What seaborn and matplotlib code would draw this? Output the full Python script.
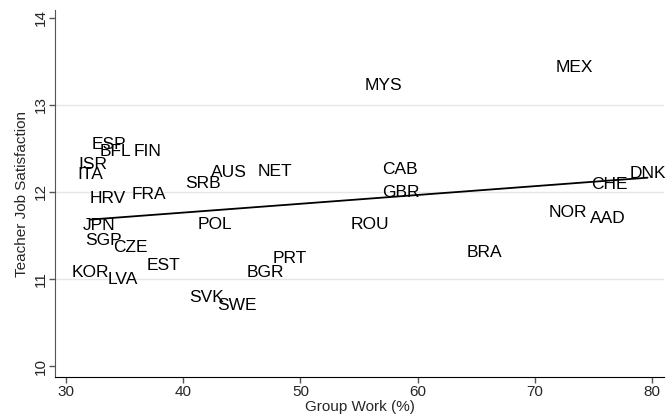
import pandas as pd
import seaborn as sns
import matplotlib.pyplot as plt

# Country codes with group work share (%) and teacher job satisfaction
countries = ['MEX', 'MYS', 'ESP', 'BFL', 'FIN', 'ISR', 'ITA', 'HRV', 'FRA', 'AUS',
             'SRB', 'NET', 'CAB', 'GBR', 'CHE', 'DNK', 'NOR', 'AAD', 'BRA', 'ROU',
             'POL', 'JPN', 'SGP', 'CZE', 'EST', 'PRT', 'BGR', 'KOR', 'LVA', 'SVK', 'SWE']
group_work = [73.4, 57.1, 33.7, 34.2, 37.0, 32.3, 32.1, 33.6, 37.1, 43.9,
              41.7, 47.8, 58.5, 58.6, 76.3, 79.6, 72.8, 76.2, 65.7, 55.9,
              42.7, 32.8, 33.2, 35.5, 38.3, 49.1, 47.0, 32.1, 34.9, 42.0, 44.6]
satisfaction = [13.43, 13.22, 12.54, 12.47, 12.47, 12.31, 12.20, 11.93, 11.97, 12.22,
                12.10, 12.23, 12.26, 11.99, 12.09, 12.21, 11.76, 11.69, 11.30, 11.63,
                11.63, 11.61, 11.44, 11.36, 11.15, 11.23, 11.08, 11.08, 10.99, 10.79, 10.70]
y_ticks = [10, 11, 12, 13, 14]
x_ticks = [30, 40, 50, 60, 70, 80]

df = pd.DataFrame({'Country': countries, 'GroupWork': group_work, 'Satisfaction': satisfaction})

sns.set_style("white")
plt.rcParams['font.family'] = ['Liberation Sans', 'DejaVu Sans']

fig = plt.figure(figsize=(6.66, 4.18), dpi=100)
ax = fig.add_axes([0.083, 0.098, 0.914, 0.878])

# Fitted line only, labels stand in for the markers
sns.regplot(x='GroupWork', y='Satisfaction', data=df, scatter=False, ci=None,
            truncate=True, color='black', line_kws={'linewidth': 1.3}, ax=ax)

for _, row in df.iterrows():
    ax.text(row['GroupWork'], row['Satisfaction'], row['Country'],
            ha='center', va='center', fontsize=12.5, color='black')

ax.set_xlim(29.1, 81)
ax.set_ylim(9.874, 14.09)
ax.set_xticks(x_ticks)
ax.set_yticks(y_ticks)
ax.set_yticklabels([str(t) for t in y_ticks], rotation=90, va='center')
ax.tick_params(axis='both', direction='out', length=4, width=1, labelsize=11,
               pad=1.5, color='#555555', left=True, bottom=True)
for t in y_ticks[1:4]:
    ax.axhline(t, color='#e6e6e6', linewidth=1, zorder=0)

ax.spines['top'].set_visible(False)
ax.spines['right'].set_visible(False)
ax.spines['left'].set_color('#555555')
ax.spines['bottom'].set_color('black')

ax.set_xlabel('Group Work (%)', fontsize=11, labelpad=1)
ax.set_ylabel('Teacher Job Satisfaction', fontsize=11, labelpad=3)

fig.savefig('out.png', dpi=100)
